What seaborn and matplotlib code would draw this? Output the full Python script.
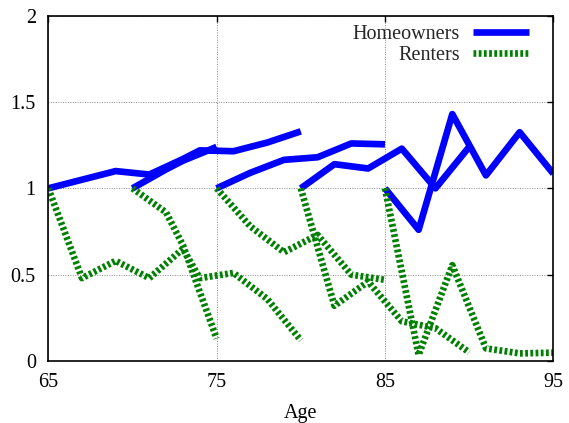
import pandas as pd
import matplotlib.pyplot as plt
from matplotlib.lines import Line2D
import seaborn as sns

# ── Data: each cohort followed from its starting age, ratio relative to start ──
ages_c1 = [65, 67, 69, 71, 73, 74, 76, 78, 80]
own_c1 = [1.0, 1.05, 1.10, 1.08, 1.17, 1.22, 1.215, 1.265, 1.33]
rent_c1 = [1.0, 0.48, 0.58, 0.48, 0.65, 0.48, 0.51, 0.36, 0.12]

ages_c2 = [70, 72, 73, 75]
own_c2 = [1.0, 1.11, 1.16, 1.24]
rent_c2 = [1.0, 0.86, 0.67, 0.13]

ages_c3 = [75, 77, 79, 81, 83, 85]
own_c3 = [1.0, 1.09, 1.165, 1.18, 1.26, 1.255]
rent_c3 = [1.0, 0.78, 0.63, 0.73, 0.50, 0.47]

ages_c4 = [80, 82, 84, 86, 88, 90]
own_c4 = [1.0, 1.14, 1.115, 1.23, 1.0, 1.24]
rent_c4 = [1.0, 0.32, 0.46, 0.23, 0.19, 0.05]

ages_c5 = [85, 87, 89, 91, 93, 95]
own_c5 = [1.0, 0.76, 1.43, 1.075, 1.325, 1.085]
rent_c5 = [1.0, 0.035, 0.555, 0.073, 0.044, 0.048]

cohorts = [(ages_c1, own_c1, rent_c1), (ages_c2, own_c2, rent_c2),
           (ages_c3, own_c3, rent_c3), (ages_c4, own_c4, rent_c4),
           (ages_c5, own_c5, rent_c5)]

rows = []
for i, (ages, own, rent) in enumerate(cohorts):
    for a, o, r in zip(ages, own, rent):
        rows.append({'age': a, 'value': o, 'tenure': 'Homeowners', 'cohort': i})
        rows.append({'age': a, 'value': r, 'tenure': 'Renters', 'cohort': i})
df = pd.DataFrame(rows)

sns.set_theme(style='white')
plt.rcParams['font.family'] = ['Liberation Serif', 'DejaVu Serif']

COLORS = {'Homeowners': '#0000ff', 'Renters': '#008000'}
LW = 4.8
DOT = (0.42, 0.36)
FS = 14.5

fig = plt.figure(figsize=(5.69, 4.23), dpi=100)
ax = fig.add_axes([0.0849, 0.1466, 0.8875, 0.8163])

sns.lineplot(data=df, x='age', y='value', hue='tenure', style='tenure',
             units='cohort', estimator=None, sort=False, ax=ax,
             palette=COLORS, dashes={'Homeowners': '', 'Renters': DOT},
             linewidth=LW, legend=False)
for ln in ax.get_lines():
    ln.set_dash_capstyle('butt')
    ln.set_solid_capstyle('butt')

ax.set_xlim(65, 95)
ax.set_ylim(0, 2)
ax.set_xticks([65, 75, 85, 95])
ax.set_yticks([0, 0.5, 1, 1.5, 2])
ax.set_yticklabels(['0', '0.5', '1', '1.5', '2'])
ax.grid(True, color='#888888', linestyle=(0, (1, 1.5)), linewidth=0.7)
ax.set_axisbelow(True)
for s in ax.spines.values():
    s.set_color('black')
    s.set_linewidth(1.2)
ax.tick_params(direction='in', length=4, width=1, color='black',
               top=True, right=True, labelsize=FS, pad=9, labelcolor='black')
ax.set_xlabel('Age', fontsize=FS, labelpad=8, color='black')
ax.set_ylabel('')

handles = [Line2D([], [], color=COLORS['Homeowners'], lw=LW, solid_capstyle='butt'),
           Line2D([], [], color=COLORS['Renters'], lw=LW, linestyle=(0, DOT),
                  dash_capstyle='butt')]
ax.legend(handles, ['Homeowners', 'Renters'], loc='upper right',
          bbox_to_anchor=(0.952, 0.974), frameon=False, markerfirst=False,
          fontsize=FS, handlelength=2.8, handletextpad=0.62,
          labelspacing=0.1, borderpad=0, borderaxespad=0)

fig.savefig('out.png', dpi=100)
